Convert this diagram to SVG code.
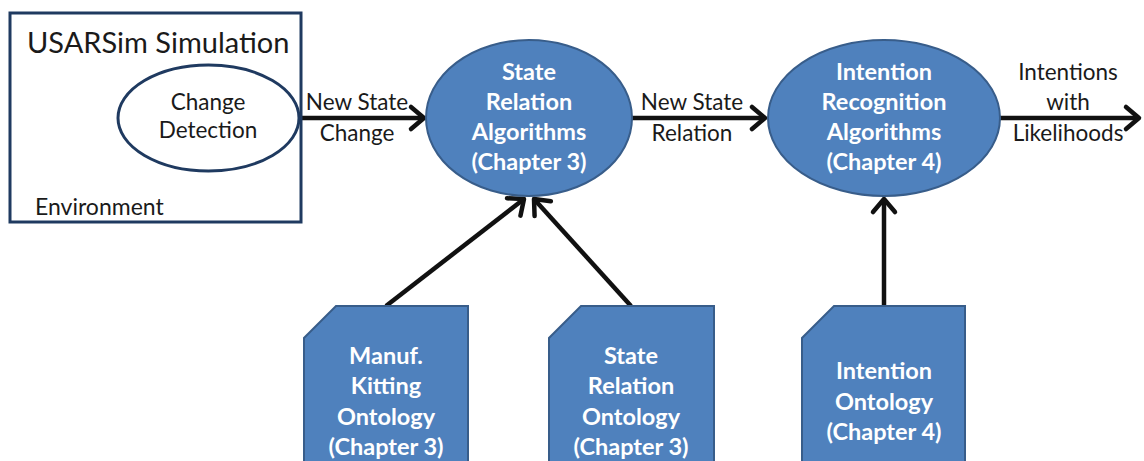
<svg xmlns="http://www.w3.org/2000/svg" width="1144" height="461" viewBox="0 0 1144 461">
<style>
.blue{fill:#4F81BD;stroke:#385D8A;stroke-width:2}
.wt{font-family:Lato,"Liberation Sans",Arial,sans-serif;font-weight:bold;font-size:23.5px;fill:#fff;text-anchor:middle}
.lbl{font-family:Lato,"Liberation Sans",Arial,sans-serif;font-size:22.5px;fill:#1a1a1a;text-anchor:middle}
.conn{stroke:#111;stroke-width:4.5;fill:none}
</style>
<defs>
<marker id="ah" markerUnits="userSpaceOnUse" markerWidth="30" markerHeight="30" viewBox="-20 -15 30 30" refX="0" refY="0" orient="auto">
<path d="M-13,-11 L0,0 L-13,11" fill="none" stroke="#111" stroke-width="4.5" stroke-linecap="round" stroke-linejoin="round"/>
</marker>
</defs>
<rect width="1144" height="461" fill="#fff"/>
<g id="connectors">
<line class="conn" x1="299" y1="118" x2="424" y2="118" marker-end="url(#ah)"/>
<line class="conn" x1="632" y1="118" x2="765" y2="118" marker-end="url(#ah)"/>
<line class="conn" x1="1000" y1="118" x2="1139" y2="118" marker-end="url(#ah)"/>
<line class="conn" x1="386" y1="306" x2="524" y2="199" marker-end="url(#ah)"/>
<line class="conn" x1="631" y1="306" x2="534" y2="199" marker-end="url(#ah)"/>
<line class="conn" x1="884" y1="306" x2="884" y2="199" marker-end="url(#ah)"/>
<text class="lbl" x="357" y="110">New State</text>
<text class="lbl" x="357" y="141">Change</text>
<text class="lbl" x="692" y="110">New State</text>
<text class="lbl" x="692" y="141">Relation</text>
<text class="lbl" x="1068" y="80">Intentions</text>
<text class="lbl" x="1068" y="110">with</text>
<text class="lbl" x="1068" y="141">Likelihoods</text>
</g>
<g id="usarsim">
<rect x="10" y="13" width="291" height="209" fill="#fff" stroke="#1F3A60" stroke-width="3"/>
<text x="27" y="53" font-family="Lato,'Liberation Sans',Arial,sans-serif" font-size="29" fill="#1a1a1a">USARSim Simulation</text>
<text x="35" y="215" font-family="Lato,'Liberation Sans',Arial,sans-serif" font-size="23" fill="#1a1a1a">Environment</text>
</g>
<g id="change-detection">
<ellipse cx="208.5" cy="118" rx="90.5" ry="53" fill="#fff" stroke="#1F3A60" stroke-width="3"/>
<text class="lbl" x="208" y="110" font-size="19">Change</text>
<text class="lbl" x="208" y="138" font-size="19">Detection</text>
</g>
<g id="state-relation-algorithms">
<ellipse class="blue" cx="529" cy="118" rx="103" ry="78"/>
<text class="wt" x="529" y="80">State</text>
<text class="wt" x="529" y="110">Relation</text>
<text class="wt" x="529" y="140">Algorithms</text>
<text class="wt" x="529" y="170">(Chapter 3)</text>
</g>
<g id="intention-recognition-algorithms">
<ellipse class="blue" cx="884" cy="118" rx="116" ry="78"/>
<text class="wt" x="884" y="80">Intention</text>
<text class="wt" x="884" y="110">Recognition</text>
<text class="wt" x="884" y="140">Algorithms</text>
<text class="wt" x="884" y="170">(Chapter 4)</text>
</g>
<g id="manuf-kitting-ontology">
<path class="blue" d="M304,470 L304,338 L336,306 L468,306 L468,470 Z"/>
<text class="wt" x="386" y="364">Manuf.</text>
<text class="wt" x="386" y="394">Kitting</text>
<text class="wt" x="386" y="425">Ontology</text>
<text class="wt" x="386" y="455">(Chapter 3)</text>
</g>
<g id="state-relation-ontology">
<path class="blue" d="M549,470 L549,338 L581,306 L714,306 L714,470 Z"/>
<text class="wt" x="631" y="364">State</text>
<text class="wt" x="631" y="394">Relation</text>
<text class="wt" x="631" y="425">Ontology</text>
<text class="wt" x="631" y="455">(Chapter 3)</text>
</g>
<g id="intention-ontology">
<path class="blue" d="M802,470 L802,338 L834,306 L965,306 L965,470 Z"/>
<text class="wt" x="884" y="379">Intention</text>
<text class="wt" x="884" y="410">Ontology</text>
<text class="wt" x="884" y="440">(Chapter 4)</text>
</g>
</svg>
